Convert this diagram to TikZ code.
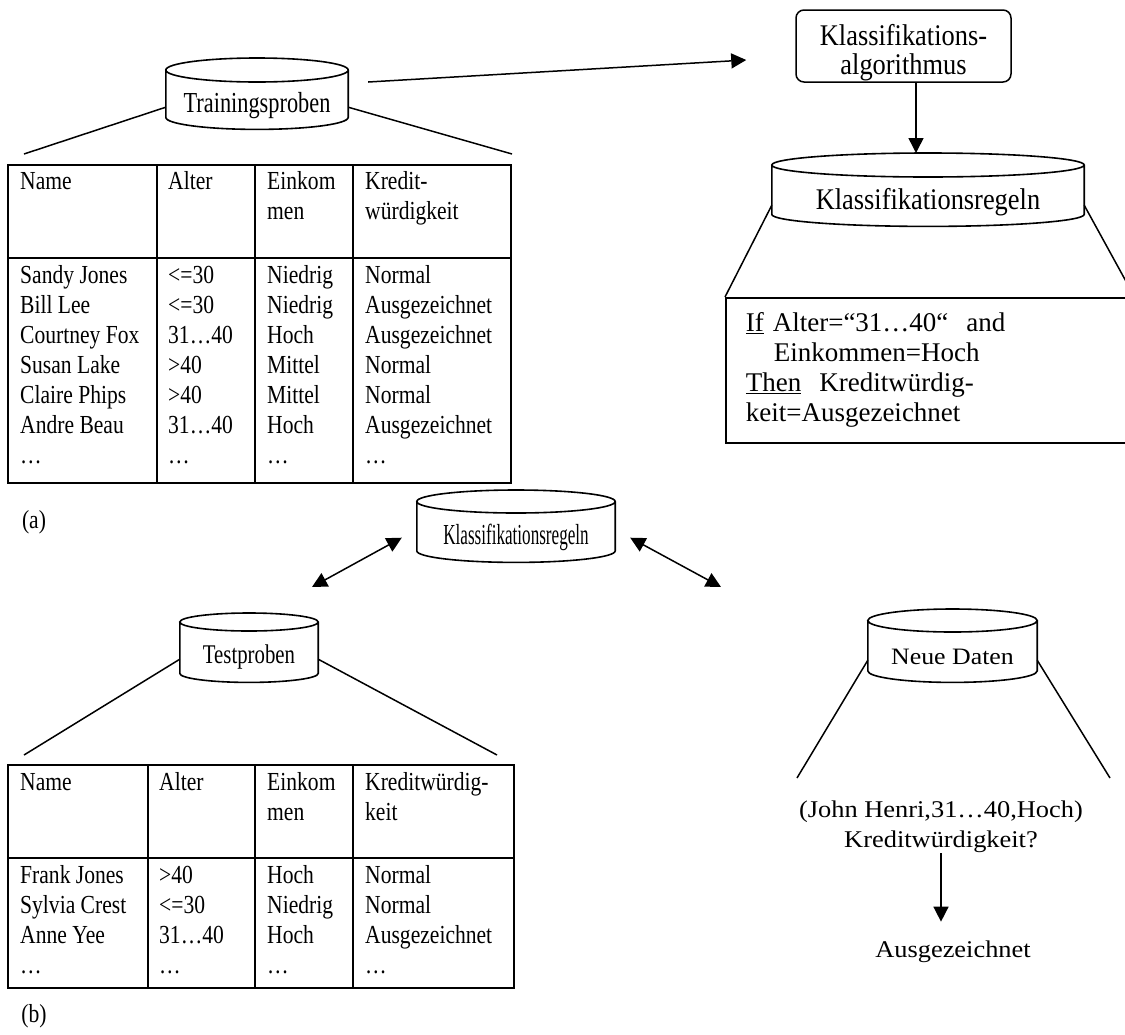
\documentclass[tikz,border=0pt]{standalone}
\usepackage{fontspec}
\setmainfont{Liberation Serif}
\newfontfamily\tablefont[FakeStretch=0.83]{Liberation Serif}
\newfontfamily\narrowfont[FakeStretch=0.77]{Liberation Serif}
\newfontfamily\squeezefont[FakeStretch=0.59]{Liberation Serif}
\newfontfamily\boxfont[FakeStretch=0.88]{Liberation Serif}
\newfontfamily\widefont[FakeStretch=1.1]{Liberation Serif}
\usetikzlibrary{calc}
\usetikzlibrary{arrows.meta}
\usetikzlibrary{shapes}
\usetikzlibrary{positioning}
\tikzstyle{db}=[inner sep=0pt, anchor=north]
\tikzstyle{dbline}=[line width=1.6pt]
\tikzstyle{tabline}=[line width=2pt]
\tikzstyle{fan}=[line width=1.5pt]
\tikzstyle{link}=[-{Triangle[length=15pt, width=15pt]}, line width=1.5pt]
\tikzstyle{dlink}=[{Triangle[length=15pt, width=15pt]}-{Triangle[length=15pt, width=15pt]}, line width=1.5pt]
\tikzstyle{tabcell}=[anchor=base west, inner sep=0pt, font=\tablefont\fontsize{26}{30}\selectfont]

% cylinder outline round a db node: #1 node, #2 half height of the lid
\newcommand{\drawdb}[2]{%
    \draw[dbline] let \p1=(#1.north west), \p2=(#1.south east), \n1={(\x2-\x1)/2} in
        ($(#1.north west)+(0,-#2)$) -- ($(#1.south west)+(0,-#2)$)
        arc[start angle=180, end angle=360, x radius=\n1, y radius=#2pt]
        -- ($(#1.north east)+(0,-#2)$)
        ($(#1.north)+(0,-#2)$) ellipse[x radius=\n1, y radius=#2pt];
}

\begin{document}
\begin{tikzpicture}[x=1pt, y=-1pt]

    \path[use as bounding box] (0, 0) rectangle (1125, 1034);
    \clip (0, 0) rectangle (1125, 1034);

    % (a) Trainingsproben
    \node[db, font=\narrowfont\fontsize{29}{30}\selectfont, minimum width=182pt, minimum height=47pt] (train) at (257, 82) {Trainingsproben};
    \drawdb{train}{12}

    \node[draw, tabline, anchor=north west, minimum width=503pt, minimum height=318pt, inner sep=0pt] (tabA) at (7, 164) {};
    \draw[tabline] (7, 258) -- (510, 258);
    \foreach \x in {157, 255, 353}
        \draw[tabline] (\x, 164) -- (\x, 482);

    \foreach \y/\n/\a/\e/\k in {189/Name/Alter/Einkom/Kredit-, 219/{}/{}/men/würdigkeit,
            283/Sandy Jones/<=30/Niedrig/Normal, 313/Bill Lee/<=30/Niedrig/Ausgezeichnet,
            343/Courtney Fox/31…40/Hoch/Ausgezeichnet, 373/Susan Lake/>40/Mittel/Normal,
            403/Claire Phips/>40/Mittel/Normal, 433/Andre Beau/31…40/Hoch/Ausgezeichnet,
            463/…/…/…/…}
    {
        \node[tabcell] (a-\y-n) at (20, \y) {\n};
        \node[tabcell] (a-\y-a) at (168, \y) {\a};
        \node[tabcell] (a-\y-e) at (267, \y) {\e};
        \node[tabcell] (a-\y-k) at (365, \y) {\k};
    }

    \draw[fan] ($(train.west)+(0,1.5)$) -- ($(tabA.north west)+(17,-10)$);
    \draw[fan] ($(train.east)+(0,1.5)$) -- ($(tabA.north east)+(0,-10)$);

    \node[tabcell, anchor=base] (labA) at (34, 528) {(a)};

    % Klassifikationsalgorithmus und Regeln
    \node[draw, line width=1.5pt, rounded corners=8pt, font=\boxfont\fontsize{30}{29}\selectfont, align=center, minimum width=215pt, minimum height=72pt, inner sep=0pt] (algo) at (903.5, 46) {\rule{0pt}{33.5pt}Klassifikations-\\algorithmus};

    \draw[link] ($(train.north east)+(20,0)$) -- ($(algo.west)+(-49,14)$);

    \node[db, font=\boxfont\fontsize{30}{30}\selectfont, minimum width=312pt, minimum height=49pt] (rulesA) at (928, 177) {Klassifikationsregeln};
    \drawdb{rulesA}{12}

    \draw[link] ([xshift=12.5pt]algo.south) -- ($(rulesA.north)+(-12,-24)$);

    \node[draw, line width=1.6pt, anchor=north west, minimum width=408pt, minimum height=145pt, text width=368pt, inner xsep=20pt, inner ysep=0pt, align=left, font=\fontsize{27}{30}\selectfont] (rule) at (725, 297) {\underline{If} Alter=“31…40“\ \ and\\\hspace*{28pt}Einkommen=Hoch\\\underline{Then}\ \ Kreditwürdig-\\keit=Ausgezeichnet};

    \draw[fan] ($(rulesA.west)+(0,3.5)$) -- (rule.north west);
    \draw[fan] ($(rulesA.east)+(0,3.5)$) -- (rule.north east);

    % (b) Testproben und neue Daten
    \node[db, font=\squeezefont\fontsize{29}{30}\selectfont, minimum width=198pt, minimum height=49pt] (rulesB) at (516, 513) {Klassifikationsregeln};
    \drawdb{rulesB}{11.5}
    \node[db, font=\narrowfont\fontsize{27}{30}\selectfont, minimum width=138pt, minimum height=51pt] (test) at (249, 631) {Testproben};
    \drawdb{test}{9}
    \node[db, font=\widefont\fontsize{23.5}{30}\selectfont, minimum width=169pt, minimum height=50pt] (neu) at (952.5, 632) {Neue Daten};
    \drawdb{neu}{11.5}

    \draw[dlink] ($(rulesB.west)+(-15,0)$) -- ($(test.north)+(63,-44)$);
    \draw[dlink] ($(rulesB.east)+(15,0)$) -- ($(neu.north)+(-231.5,-45)$);

    \node[draw, tabline, anchor=north west, minimum width=506pt, minimum height=223pt, inner sep=0pt] (tabB) at (7, 764) {};
    \draw[tabline] (7, 858) -- (513, 858);
    \foreach \x in {148, 255, 353}
        \draw[tabline] (\x, 764) -- (\x, 987);

    \foreach \y/\n/\a/\e/\k in {790/Name/Alter/Einkom/Kreditwürdig-, 820/{}/{}/men/keit,
            883/Frank Jones/>40/Hoch/Normal, 913/Sylvia Crest/<=30/Niedrig/Normal,
            943/Anne Yee/31…40/Hoch/Ausgezeichnet, 973/…/…/…/…}
    {
        \node[tabcell] (b-\y-n) at (20, \y) {\n};
        \node[tabcell] (b-\y-a) at (159, \y) {\a};
        \node[tabcell] (b-\y-e) at (267, \y) {\e};
        \node[tabcell] (b-\y-k) at (365, \y) {\k};
    }

    \draw[fan] ($(test.west)+(0,2.5)$) -- ($(tabB.north west)+(17,-9)$);
    \draw[fan] ($(test.east)+(0,2.5)$) -- ($(tabB.north east)+(-18,-9)$);

    \node[font=\widefont\fontsize{24}{30}\selectfont, align=center, anchor=north, inner sep=0pt] (query) at (941, 801) {(John Henri,31…40,Hoch)\\Kreditwürdigkeit?};
    \coordinate (neuL) at (797, 778);
    \coordinate (neuR) at (1110, 778);
    \draw[fan] ($(neu.west)+(0,3)$) -- (neuL);
    \draw[fan] ($(neu.east)+(0,3)$) -- (neuR);

    \node[font=\widefont\fontsize{24}{30}\selectfont, anchor=base, inner sep=0pt] (result) at (953, 957) {Ausgezeichnet};
    \draw[link, shorten >=18.5pt] (query.south) -- (query.south |- result.north);

    \node[tabcell, anchor=base] (labB) at (34, 1022) {(b)};

\end{tikzpicture}
\end{document}
